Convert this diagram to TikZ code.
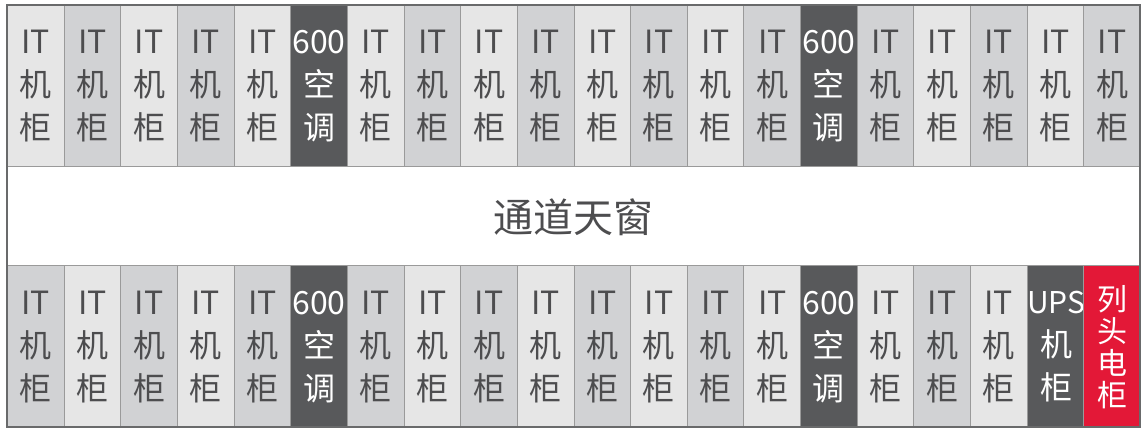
\documentclass[tikz,border=0pt]{standalone}
\usepackage{fontspec}
\setmainfont{Noto Sans CJK SC}
\usetikzlibrary{positioning}

\definecolor{rackL}{HTML}{E6E6E6}
\definecolor{rackD}{HTML}{D1D2D4}
\definecolor{acgray}{HTML}{58595B}
\definecolor{pdured}{HTML}{E31837}
\definecolor{txtgray}{HTML}{4D4D4F}
\definecolor{linegray}{HTML}{9A9A9A}

\newcommand{\itcab}{IT\\机\\柜}
\newcommand{\accab}{600\\空\\调}
\newcommand{\upscab}{{\fontsize{30}{43}\selectfont UPS}\\机\\柜}
\newcommand{\pducab}{列\\头\\电\\柜}

\tikzset{
  cab/.style={draw=linegray, line width=1pt, minimum width=56.65pt, minimum height=161.5pt,
    inner sep=0pt, align=center, anchor=north west, text=txtgray,
    font=\fontsize{32}{43}\selectfont},
  itL/.style={cab, fill=rackL},
  itD/.style={cab, fill=rackD},
  ac/.style={cab, fill=acgray, text=white},
  ups/.style={cab, fill=acgray, text=white},
  pdu/.style={cab, fill=pdured, text=white, font=\fontsize{30}{32}\selectfont},
}

\begin{document}
\begin{tikzpicture}[x=1pt,y=1pt]
\useasboundingbox (0,0) rectangle (1147,433);

% top row
\foreach \i/\s/\t in {1/itL/\itcab,2/itD/\itcab,3/itL/\itcab,4/itD/\itcab,5/itL/\itcab,
  6/ac/\accab,7/itL/\itcab,8/itD/\itcab,9/itL/\itcab,10/itD/\itcab,11/itL/\itcab,
  12/itD/\itcab,13/itL/\itcab,14/itD/\itcab,15/ac/\accab,16/itD/\itcab,17/itL/\itcab,
  18/itD/\itcab,19/itL/\itcab,20/itD/\itcab}
  \node[\s] (t\i) at ({7+(\i-1)*56.65},428) {\t};

% bottom row
\foreach \i/\s/\t in {1/itD/\itcab,2/itL/\itcab,3/itD/\itcab,4/itL/\itcab,5/itD/\itcab,
  6/ac/\accab,7/itD/\itcab,8/itL/\itcab,9/itD/\itcab,10/itL/\itcab,11/itD/\itcab,
  12/itL/\itcab,13/itD/\itcab,14/itL/\itcab,15/ac/\accab,16/itL/\itcab,17/itD/\itcab,
  18/itL/\itcab,19/ups/\upscab,20/pdu/\pducab}
  \node[\s] (b\i) at ({7+(\i-1)*56.65},167.5) {\t};

\node[text=txtgray, font=\fontsize{40}{40}\selectfont] (skylight) at (573.5,216) {通道天窗};

\draw[draw=acgray!90, line width=2.5pt] (7,6) rectangle (1140,428);
\end{tikzpicture}
\end{document}
